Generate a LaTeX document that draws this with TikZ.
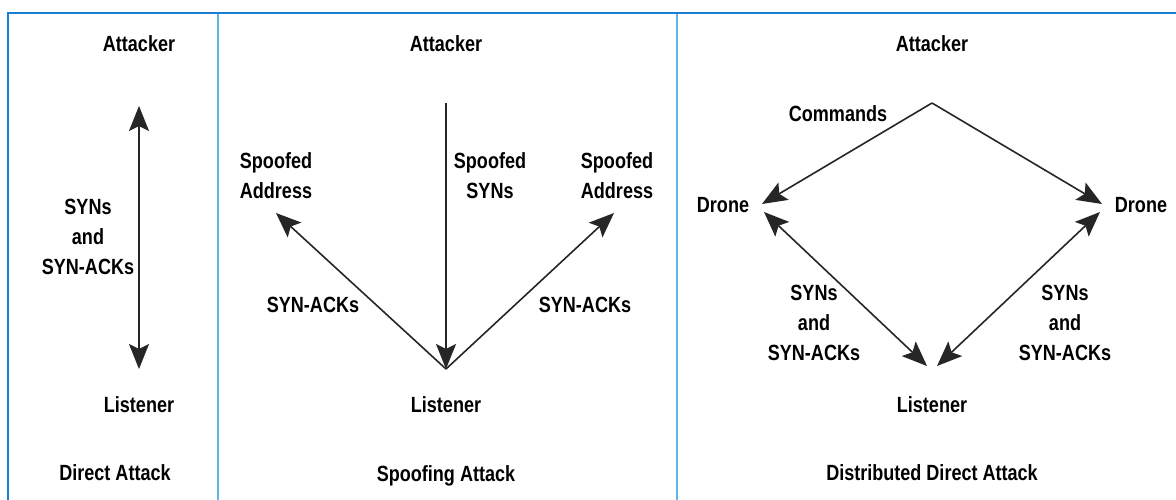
\documentclass[tikz,border=0pt]{standalone}
\usepackage{fontspec}
\setmainfont{Liberation Sans}[FakeStretch=0.82]
\usetikzlibrary{arrows.meta}
\definecolor{frameblue}{HTML}{1A7FD4}
\definecolor{divblue}{HTML}{62B4EA}
\tikzset{
  lbl/.style={font=\fontsize{22}{30}\selectfont\bfseries, align=center, inner sep=0pt, text=black},
  con/.style={draw=black!85, line width=1.6pt},
  tip/.style={-{Stealth[length=25pt,width=20pt,inset=5pt]}},
  dtip/.style={{Stealth[length=25pt,width=20pt,inset=5pt]}-{Stealth[length=25pt,width=20pt,inset=5pt]}},
}
\begin{document}
\begin{tikzpicture}[x=1pt,y=-1pt]
\useasboundingbox (0,0) rectangle (1176,500);
\fill[white] (0,0) rectangle (1176,500);
% frame
\draw[divblue, line width=2.2pt] (218,13) -- (218,500);
\draw[divblue, line width=2.2pt] (677,13) -- (677,500);
\draw[frameblue, line width=2.4pt] (8,500) -- (8,13) -- (1176,13);

% ---------- Panel 1: Direct Attack
\node[lbl] (a1) at (139,44) {Attacker};
\node[lbl] (l1) at (139,405) {Listener};
\node[lbl] (s1) at (88,237) {SYNs\\and\\SYN-ACKs};
\node[lbl] (t1) at (115,473) {Direct Attack};
\coordinate (a1p) at (139,106);
\coordinate (l1p) at (139,369);
\draw[con, dtip] (a1p) -- (l1p);

% ---------- Panel 2: Spoofing Attack
\node[lbl] (a2) at (446,44) {Attacker};
\node[lbl] (l2) at (446,405) {Listener};
\node[lbl] (sa2l) at (276,176) {Spoofed\\Address};
\node[lbl] (ss2) at (490,176) {Spoofed\\SYNs};
\node[lbl] (sa2r) at (617,176) {Spoofed\\Address};
\node[lbl] (k2l) at (313,305) {SYN-ACKs};
\node[lbl] (k2r) at (585,305) {SYN-ACKs};
\node[lbl] (t2) at (446,476) {Spoofing Attack};
\coordinate (a2p) at (446,103);
\coordinate (l2p) at (446,369);
\coordinate (sl2p) at (276,213);
\coordinate (sr2p) at (614,213);
\draw[con, tip] (a2p) -- (l2p);
\draw[con, tip] (l2p) -- (sl2p);
\draw[con, tip] (l2p) -- (sr2p);

% ---------- Panel 3: Distributed Direct Attack
\node[lbl] (a3) at (932,44) {Attacker};
\node[lbl] (c3) at (838,114) {Commands};
\node[lbl] (d3l) at (723,205) {Drone};
\node[lbl] (d3r) at (1141,205) {Drone};
\node[lbl] (l3) at (932,405) {Listener};
\node[lbl] (s3l) at (814,323) {SYNs\\and\\SYN-ACKs};
\node[lbl] (s3r) at (1065,323) {SYNs\\and\\SYN-ACKs};
\node[lbl] (t3) at (932,473) {Distributed Direct Attack};
\coordinate (a3p) at (932,103);
\coordinate (d3lt) at (762,204);
\coordinate (d3rt) at (1102,204);
\coordinate (d3lb) at (764,212);
\coordinate (d3rb) at (1100,212);
\coordinate (l3l) at (927,366);
\coordinate (l3r) at (937,366);
\draw[con, tip] (a3p) -- (d3lt);
\draw[con, tip] (a3p) -- (d3rt);
\draw[con, dtip] (d3lb) -- (l3l);
\draw[con, dtip] (d3rb) -- (l3r);
\end{tikzpicture}
\end{document}
